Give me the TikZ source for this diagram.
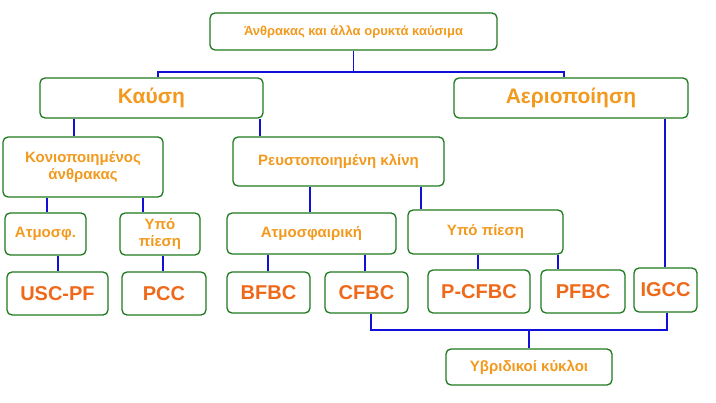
\documentclass[tikz,border=0pt]{standalone}
\usepackage{fontspec}
\setmainfont{Liberation Sans}
\definecolor{bx}{HTML}{1E7A1E}
\definecolor{tx}{HTML}{F29A1E}
\definecolor{tb}{HTML}{EE6A1A}
\definecolor{ln}{HTML}{1010D8}
\begin{document}
\begin{tikzpicture}[x=1pt,y=-1pt,
 box/.style={draw=bx,line width=1.3pt,rounded corners=5pt,fill=white,text=tx,align=center,inner sep=0pt},
 mid/.style={box,font=\fontsize{15}{17}\selectfont\bfseries},
 big/.style={box,font=\fontsize{20}{22}\selectfont\bfseries,text=tb},
 ln/.style={draw=ln,line width=1.3pt}]
\useasboundingbox (0,0) rectangle (716,403);
\newcommand\bx[7]{\node[#2,minimum width={#5-#3},minimum height={#6-#4}] (#1) at ({(#3+#5)/2},{(#4+#6)/2}) {#7};}
\bx{top}{box,font=\fontsize{13}{15}\selectfont\bfseries}{210}{13}{497}{50}{Άνθρακας και άλλα ορυκτά καύσιμα}
\bx{kaf}{box,font=\fontsize{21}{23}\selectfont\bfseries}{40}{78}{263}{118}{Καύση}
\bx{aer}{box,font=\fontsize{21}{23}\selectfont\bfseries}{454}{78}{688}{118}{Αεριοποίηση}
\bx{kon}{mid}{3}{137}{163}{197}{Κονιοποιημένος\\άνθρακας}
\bx{reu}{mid}{233}{137}{444}{186}{Ρευστοποιημένη κλίνη}
\bx{atm}{mid}{5}{213}{86}{255}{Ατμοσφ.}
\bx{ypo}{mid}{120}{213}{200}{255}{Υπό\\πίεση}
\bx{atf}{mid}{227}{213}{396}{254}{Ατμοσφαιρική}
\bx{yp2}{mid}{408}{210}{563}{254}{Υπό πίεση}
\bx{usc}{big}{7}{272}{108}{315}{USC-PF}
\bx{pcc}{big}{122}{272}{206}{315}{PCC}
\bx{bfb}{big}{227}{272}{310}{313}{BFBC}
\bx{cfb}{big}{325}{272}{408}{313}{CFBC}
\bx{pcf}{big}{428}{270}{530}{313}{P-CFBC}
\bx{pfb}{big}{541}{270}{625}{313}{PFBC}
\bx{igc}{big}{634}{268}{697}{312}{IGCC}
\bx{hyb}{mid}{446}{349}{612}{385}{Υβριδικοί κύκλοι}
\coordinate (b1) at (353.5,72);
\coordinate (b2) at (529,330);
\draw[ln] (top.south) -- (b1);
\draw[ln] (kaf.north -| 158,0) |- (b1) -| (aer.north -| 564,0);
\draw[ln] (kaf.south -| 74,0) -- (kon.north -| 74,0);
\draw[ln] (kaf.south -| 260,0) -- (reu.north -| 260,0);
\draw[ln] (aer.south -| 665,0) -- (igc.north -| 665,0);
\draw[ln] (kon.south -| 47,0) -- (atm.north -| 47,0);
\draw[ln] (kon.south -| 143,0) -- (ypo.north -| 143,0);
\draw[ln] (reu.south -| 310,0) -- (atf.north -| 310,0);
\draw[ln] (reu.south -| 421,0) -- (yp2.north -| 421,0);
\draw[ln] (atm.south -| 58,0) -- (usc.north -| 58,0);
\draw[ln] (ypo.south -| 163,0) -- (pcc.north -| 163,0);
\draw[ln] (atf.south -| 268,0) -- (bfb.north -| 268,0);
\draw[ln] (atf.south -| 365,0) -- (cfb.north -| 365,0);
\draw[ln] (yp2.south -| 478,0) -- (pcf.north -| 478,0);
\draw[ln] (yp2.south -| 558,0) -- (pfb.north -| 558,0);
\draw[ln] (cfb.south -| 371,0) |- (b2) -| (igc.south -| 667,0);
\draw[ln] (pcf.south -| 478,0) -- (pcf.south -| 478,330);
\draw[ln] (pfb.south -| 559,0) -- (pfb.south -| 559,330);
\draw[ln] (b2) -- (hyb.north);
\end{tikzpicture}
\end{document}
